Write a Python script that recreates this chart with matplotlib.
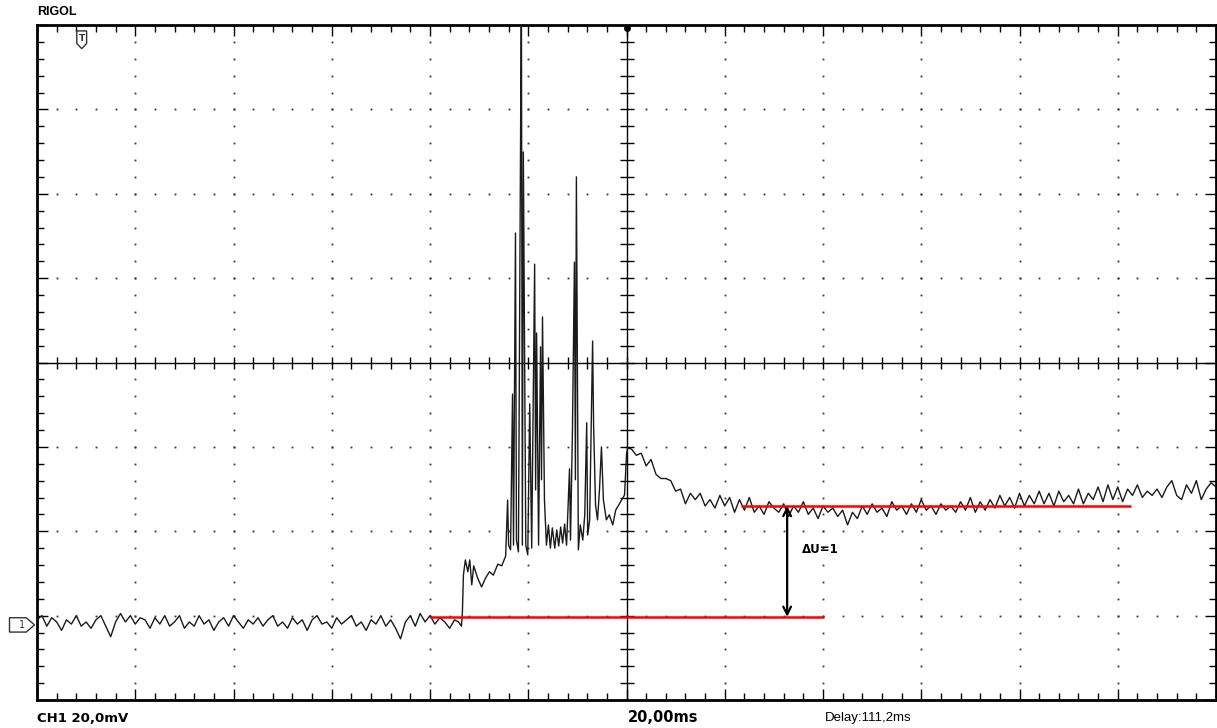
import matplotlib
matplotlib.use("Agg")
import matplotlib.pyplot as plt
from matplotlib.patches import Polygon
import numpy as np

# scope settings
VOLT_DIV = 20.0   # mV / div
TIME_DIV = 20.0   # ms / div
N_HDIV = 12
N_VDIV = 8

# baseline before the event, one sample per ms starting at -120 ms
pre_start = -120.0
pre_mv = [
    -61.0, -60.0, -62.5, -60.5, -61.5, -63.5, -61.0, -62.0, -60.0, -62.5,
    -61.5, -63.0, -61.0, -60.0, -62.5, -65.0, -61.5, -59.5, -61.5, -60.0,
    -62.0, -60.5, -61.0, -63.0, -60.5, -62.0, -60.0, -62.5, -61.5, -60.0,
    -63.0, -61.5, -62.5, -60.0, -62.0, -61.0, -63.5, -61.5, -60.5, -62.5,
    -60.0, -61.5, -63.0, -61.0, -62.0, -60.5, -62.5, -61.0, -60.0, -62.5,
    -61.5, -63.0, -60.5, -62.0, -61.0, -63.5, -61.0, -60.0, -62.0, -61.5,
    -63.0, -60.5, -62.0, -61.0, -60.0, -62.5, -61.5, -63.5, -61.0, -62.0,
    -60.0, -62.5, -61.0, -63.0, -65.5, -61.5, -60.0, -62.5, -59.5, -61.5,
    -60.0, -62.0, -60.5, -61.5, -63.0, -61.0,
]

# burst region, irregular samples
burst_ms = [
    -34.2, -33.6, -33.4, -33.2, -32.8, -32.3, -31.9, -31.5, -31.1, -30.3,
    -29.5, -28.7, -27.9, -27.1, -26.2, -25.4, -24.6, -24.2, -24.0, -23.6,
    -23.2, -23.0, -22.6, -22.4, -22.0, -21.4, -21.2, -21.0, -20.5, -20.1,
    -19.7, -19.3, -18.7, -18.5, -18.3, -17.9, -17.5, -17.3, -17.1, -16.7,
    -16.3, -15.9, -15.5, -15.1, -14.6, -14.2, -13.8, -13.4, -13.0, -12.6,
    -12.2, -11.6, -11.4, -11.0, -10.6, -10.4, -10.2, -9.8, -9.4, -8.9,
    -8.5, -8.1, -7.9, -7.5, -6.9, -6.7, -6.3, -5.9, -5.5, -5.1,
    -4.7, -4.1, -3.5, -2.8, -2.2, -1.6, -1.0, -0.4, 0.0, 0.2,
]
burst_mv = [
    -61.5, -62.5, -59.1, -50.4, -46.8, -49.6, -46.8, -52.7, -48.2, -51.1,
    -53.2, -51.1, -49.6, -50.4, -47.8, -48.2, -45.9, -32.6, -43.3, -44.4,
    -7.5, -43.3, 30.7, -42.1, -44.9, 90.0, -43.3, 49.9, -43.3, -45.6,
    -9.8, -44.0, 23.3, -30.2, 7.0, -43.3, 3.7, -27.8, 10.8, -32.6,
    -43.3, -38.5, -44.0, -39.2, -44.0, -39.7, -43.5, -39.0, -42.8, -38.3,
    -43.3, -25.2, -42.1, -15.8, 23.8, -27.8, 44.0, -44.4, -38.5, -42.1,
    -36.1, -14.3, -40.9, -37.3, 5.1, -14.8, -33.8, -37.3, -30.2, -20.0,
    -32.6, -37.3, -36.1, -38.5, -35.0, -33.8, -32.6, -31.4, -21.9, -20.3,
]

# after the event, one sample per ms starting at 1 ms
post_start = 1.0
post_mv = [
    -20.5, -22.0, -21.5, -24.5, -23.0, -26.5, -27.5, -27.5, -28.0, -30.5,
    -30.0, -33.5, -31.0, -32.5, -31.0, -34.0, -32.5, -34.5, -31.5, -34.0,
    -32.0, -35.5, -32.5, -35.0, -32.0, -35.5, -34.0, -36.0, -33.0, -34.5,
    -35.5, -33.5, -36.5, -34.0, -35.5, -33.0, -36.0, -34.5, -37.0, -34.0,
    -35.5, -34.5, -36.5, -35.0, -38.5, -35.5, -37.0, -34.0, -36.0, -33.5,
    -35.5, -34.5, -36.5, -33.0, -35.0, -34.0, -36.0, -33.5, -35.5, -32.5,
    -35.0, -34.0, -36.0, -33.5, -35.0, -34.0, -35.5, -33.0, -35.0, -32.0,
    -35.5, -33.0, -35.0, -32.5, -34.5, -31.5, -34.0, -32.0, -34.5, -31.0,
    -34.0, -31.5, -33.5, -30.5, -33.5, -31.0, -34.0, -30.5, -33.0, -31.5,
    -33.5, -30.0, -33.5, -31.0, -32.5, -29.5, -33.0, -29.0, -32.5, -29.5,
    -33.0, -30.0, -31.5, -29.0, -32.0, -30.5, -31.5, -30.0, -32.0, -29.5,
    -28.0, -31.5, -32.5, -29.0, -31.0, -28.0, -32.5, -30.0, -28.5, -29.5,
]

# cursor markers drawn on the screenshot
base_level = -60.3
plateau_level = -34.0
base_span = (-40.1, 40.3)
plateau_span = (23.4, 102.7)
arrow_t = 32.7
ground_level = -62.2
trig_t = -110.9

TRACE = "#1a1a1a"
RED = "#ff0000"


def main() -> None:
    t_pre = pre_start + np.arange(len(pre_mv)) * 1.0
    t_post = post_start + np.arange(len(post_mv)) * 1.0
    t = np.concatenate([t_pre, burst_ms, t_post])
    v = np.concatenate([pre_mv, burst_mv, post_mv])

    xmax = TIME_DIV * N_HDIV / 2
    ymax = VOLT_DIV * N_VDIV / 2

    fig = plt.figure(figsize=(12.17, 7.28), dpi=100)
    ax = fig.add_axes([37 / 1217, 28 / 728, 1179 / 1217, 675 / 728])
    ax.set_xlim(-xmax, xmax)
    ax.set_ylim(-ymax, ymax)

    # dotted graticule
    sub_x = TIME_DIV / 5
    sub_y = VOLT_DIV / 5
    xs_sub = np.arange(-xmax + sub_x, xmax, sub_x)
    ys_sub = np.arange(-ymax + sub_y, ymax, sub_y)
    for gx in np.arange(-xmax + TIME_DIV, xmax, TIME_DIV):
        if abs(gx) < 1e-9:
            continue
        ax.plot(np.full_like(ys_sub, gx), ys_sub, ls="none", marker="s",
                ms=1.3, mew=0, color="#333333", zorder=1)
    for gy in np.arange(-ymax + VOLT_DIV, ymax, VOLT_DIV):
        if abs(gy) < 1e-9:
            continue
        ax.plot(xs_sub, np.full_like(xs_sub, gy), ls="none", marker="s",
                ms=1.3, mew=0, color="#333333", zorder=1)

    # centre cross with ticks
    ax.axhline(0, color="black", lw=1.0, zorder=2)
    ax.axvline(0, color="black", lw=1.0, zorder=2)
    ax.plot(xs_sub, np.zeros_like(xs_sub), ls="none", marker="|", ms=8,
            mew=1.0, color="black", zorder=2)
    ax.plot(np.zeros_like(ys_sub), ys_sub, ls="none", marker="_", ms=10,
            mew=1.0, color="black", zorder=2)

    # frame ticks
    ax.set_xticks(np.arange(-xmax, xmax + 1, TIME_DIV))
    ax.set_xticks(xs_sub, minor=True)
    ax.set_yticks(np.arange(-ymax, ymax + 1, VOLT_DIV))
    ax.set_yticks(ys_sub, minor=True)
    ax.tick_params(which="both", direction="in", top=True, right=True,
                   labelbottom=False, labelleft=False, color="black")
    ax.tick_params(which="major", length=8, width=1.0)
    ax.tick_params(which="minor", length=5, width=1.0)
    for sp in ax.spines.values():
        sp.set_linewidth(2.0)

    # waveform
    ax.plot(t, v, color=TRACE, lw=1.0, zorder=3)

    # red cursor lines and delta arrow
    ax.hlines(base_level, *base_span, color=RED, lw=1.8, zorder=4)
    ax.hlines(plateau_level, *plateau_span, color=RED, lw=1.8, zorder=4)
    ax.annotate("", xy=(arrow_t, base_level), xytext=(arrow_t, plateau_level),
                arrowprops=dict(arrowstyle="<->", lw=1.6, color="black",
                                shrinkA=0, shrinkB=0, mutation_scale=14),
                zorder=5)
    ax.text(arrow_t + 3.0, -44.4, "ΔU=1", fontsize=8.5, fontweight="bold",
            ha="left", va="center", family="DejaVu Sans")

    # trigger position marker (top)
    ax.plot([0], [ymax - 0.6], marker="o", ms=4, color="black", clip_on=False,
            zorder=5)
    trig = Polygon([(trig_t - 1.0, 78.6), (trig_t + 1.0, 78.6),
                    (trig_t + 1.0, 75.6), (trig_t, 74.4), (trig_t - 1.0, 75.6)],
                   closed=True, facecolor="white", edgecolor="#333333", lw=1.0,
                   zorder=5)
    ax.add_patch(trig)
    ax.text(trig_t, 76.7, "T", fontsize=6.5, fontweight="bold", ha="center",
            va="center", color="#333333", zorder=6)

    # channel ground marker (left, outside frame)
    gnd = Polygon([(-125.6, ground_level + 1.7), (-122.2, ground_level + 1.7),
                   (-120.5, ground_level), (-122.2, ground_level - 1.7),
                   (-125.6, ground_level - 1.7)],
                  closed=True, facecolor="white", edgecolor="#333333", lw=1.0,
                  clip_on=False, zorder=5)
    ax.add_patch(gnd)
    ax.text(-123.0, ground_level, "1", fontsize=7, ha="center", va="center",
            color="#333333", clip_on=False, zorder=6)

    # screen captions
    fig.text(37 / 1217, 1 - 12 / 728, "RIGOL", fontsize=9, fontweight="bold",
             ha="left", va="center", family="Liberation Sans")
    fig.text(37 / 1217, 1 - 718 / 728, "CH1 20,0mV", fontsize=9.5,
             fontweight="bold", ha="left", va="center", family="DejaVu Sans")
    fig.text(628 / 1217, 1 - 718 / 728, "20,00ms", fontsize=10.5,
             fontweight="bold", ha="left", va="center", family="DejaVu Sans")
    fig.text(825 / 1217, 1 - 718 / 728, "Delay:111,2ms", fontsize=9.5,
             ha="left", va="center", family="Liberation Sans")

    fig.savefig("out.png", dpi=100, facecolor="white")
    plt.close(fig)


if __name__ == "__main__":
    main()
